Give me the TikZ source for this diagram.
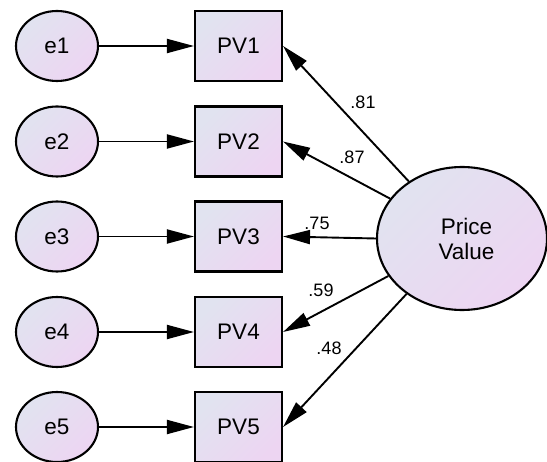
\documentclass[tikz,border=0pt]{standalone}
\usepackage{fontspec}
\setmainfont{Liberation Sans}
\usetikzlibrary{arrows.meta,shapes.geometric}
\definecolor{gradA}{HTML}{E1E3F0}
\definecolor{gradB}{HTML}{EDD5F2}
\begin{document}
\begin{tikzpicture}[x=1pt,y=-1pt,
  every node/.style={font=\fontsize{22.5}{25}\selectfont},
  shadefill/.style={top color=gradA, bottom color=gradB, shading angle=45},
  errnode/.style={ellipse, draw, line width=2.1pt, shadefill, inner sep=0pt, minimum width=82pt, minimum height=70pt},
  obsnode/.style={rectangle, draw, line width=2.1pt, shadefill, inner sep=0pt, minimum width=87pt, minimum height=70pt},
  latnode/.style={ellipse, draw, line width=2.1pt, shadefill, inner sep=0pt, minimum width=170pt, minimum height=143pt, align=center},
  path arrow/.style={line width=1.9pt, -{Triangle[length=27pt,width=14pt]}},
  coef/.style={font=\fontsize{18}{20}\selectfont, inner sep=0pt}
]
\useasboundingbox (0,0) rectangle (547,462);
\foreach \i/\y in {1/46,2/141.5,3/236.5,4/332,5/427}{
  \node[errnode] (e\i) at (57,\y) {e\i};
  \node[obsnode] (PV\i) at (238.5,\y) {PV\i};
  \draw[path arrow] (e\i.east) -- (PV\i.west);
}
\node[latnode] (PVal) at (462,238.5) {\hspace*{9pt}Price\\\hspace*{9pt}Value};
\draw[path arrow] (PVal.133) -- (PV1.east);
\draw[path arrow] (PVal.151) -- (PV2.east);
\draw[path arrow] (PVal.180) -- (PV3.east);
\draw[path arrow] (PVal.207) -- (PV4.east);
\draw[path arrow] (PVal.225) -- (PV5.east);
\node[coef] (l1) at (363,102) {.81};
\node[coef] (l2) at (352,157) {.87};
\node[coef] (l3) at (317,223) {.75};
\node[coef] (l4) at (321,290) {.59};
\node[coef] (l5) at (329,348) {.48};
\end{tikzpicture}
\end{document}
